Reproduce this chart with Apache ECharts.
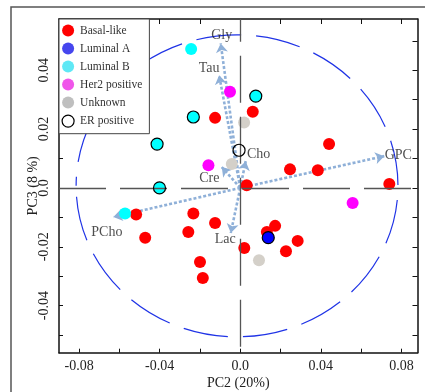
<!DOCTYPE html>
<html><head><meta charset="utf-8">
<script src="https://cdn.jsdelivr.net/npm/echarts@6/dist/echarts.min.js"></script>
<style>html,body{margin:0;padding:0;background:#fff}#c{width:425px;height:392px}</style>
</head><body><div id="c"></div>
<script>
// ---- data (PC2, PC3, ER positive flag) ----
const basalLike = [[-0.0125,0.0238,0],[0.0062,0.0259,0],[0.0441,0.0149,0],[0.0247,0.0063,0],[0.0385,0.0060,0],[0.0740,0.0013,0],[0.0032,0.0009,0],[-0.0517,-0.0090,0],[-0.0472,-0.0169,0],[-0.0233,-0.0087,0],[-0.0125,-0.0119,0],[-0.0258,-0.0150,0],[-0.0200,-0.0252,0],[-0.0186,-0.0306,0],[0.0173,-0.0129,0],[0.0132,-0.0150,0],[0.0285,-0.0180,0],[0.0227,-0.0215,0],[0.0020,-0.0204,0]];
const luminalA = [[0.0139,-0.0169,1]];
const luminalB = [[-0.0244,0.0472,0],[-0.0233,0.0241,1],[-0.0413,0.0149,1],[-0.0401,0.0000,1],[0.0077,0.0312,1],[-0.0572,-0.0087,0]];
const her2Positive = [[-0.0051,0.0327,0],[-0.0158,0.0077,0],[0.0558,-0.0051,0]];
const unknown = [[0.0019,0.0222,0],[-0.0042,0.0081,0],[0.0093,-0.0246,0]];
const erOnly = [[-0.0006,0.0128,1]];
const classNames = ['Basal-like','Luminal A','Luminal B','Her2 positive','Unknown','ER positive'];
// loadings (arrow tips)
const loadingNames = ['Gly','Tau','Cho','GPC','Cre','PCho','Lac'];
const loadingX = [-0.0097,-0.0105,0.0027,0.0715,-0.0092,-0.0630,-0.0047];
const loadingY = [0.0491,0.0383,0.0091,0.0108,0.0071,-0.0099,-0.0153];
// confidence ellipse: centre x, centre y, radius x, radius y
const ellipse = [-0.0016,0.0007,0.0799,0.0513];
// axis ticks
const xTicks = [-0.08,-0.06,-0.04,-0.02,0,0.02,0.04,0.06,0.08];
const xTickLabels = [-0.08,-0.04,0,0.04,0.08];
const yTicks = [-0.05,-0.04,-0.03,-0.02,-0.01,0,0.01,0.02,0.03,0.04,0.05];
const yTickLabels = [-0.04,-0.02,0,0.02,0.04];

// ---- styles ----
const FONT = 'Liberation Serif';
const plotColors = ['#ff0000','#0000ff','#00ffff','#ff00ff','#d4d0c9'];
const legendColors = ['#ff0000','#4646ee','#5fe8f5','#f055ea','#bfbfbf'];
const labelOffsets = {Gly:[1,-8],Tau:[-10,-6.5],Cho:[13,-7],GPC:[14,-0.5],Cre:[-12.5,11],PCho:[-6.5,15.5],Lac:[-5.5,6]};
const SYM = 12;

const groups = [basalLike, luminalA, luminalB, her2Positive, unknown];
const series = [];
series.push({
  type:'custom', coordinateSystem:'cartesian2d', silent:true, z:1, clip:false,
  data:[ellipse],
  renderItem:(params, api) => {
    const c = api.coord([api.value(0), api.value(1)]);
    const e = api.coord([api.value(0)+api.value(2), api.value(1)+api.value(3)]);
    return {type:'ellipse', shape:{cx:c[0], cy:c[1], rx:Math.abs(e[0]-c[0]), ry:Math.abs(e[1]-c[1])},
      style:{fill:'none', stroke:'#1f33e6', lineWidth:1.2, lineDash:[45,15], lineDashOffset:36}};
  }
});
series.push({
  type:'lines', coordinateSystem:'cartesian2d', silent:true, z:3,
  symbol:['none','arrow'], symbolSize:[0,9],
  lineStyle:{color:'#8fb0d8', width:2.6, type:[3,2], opacity:1},
  data: loadingNames.map((n,i)=>({coords:[[0,0],[loadingX[i],loadingY[i]]]}))
});
groups.forEach((g,i)=>{
  series.push({
    name:classNames[i], type:'scatter', symbol:'circle', symbolSize:SYM, z:4, silent:true,
    itemStyle:{color:plotColors[i], opacity:1},
    data:g.map(p=>[p[0],p[1]])
  });
});
const erPts = [];
groups.concat([erOnly]).forEach(g=>g.forEach(p=>{ if(p[2]) erPts.push([p[0],p[1]]); }));
series.push({
  name:'ER positive', type:'scatter', symbol:'circle', symbolSize:SYM, z:5, silent:true,
  itemStyle:{color:'rgba(0,0,0,0)', borderColor:'#000', borderWidth:1.2, opacity:1},
  data:erPts
});
series.push({
  type:'scatter', symbol:'circle', symbolSize:1, z:6, silent:true,
  itemStyle:{color:'rgba(0,0,0,0)'},
  data: loadingNames.map((n,i)=>({value:[loadingX[i],loadingY[i]], name:n,
    label:{show:true, position:'inside', offset:labelOffsets[n], formatter:n,
      fontFamily:FONT, fontSize:14, color:'#222'}})),
  markLine:{silent:true, symbol:'none', label:{show:false}, animation:false,
    lineStyle:{color:'#555', width:1.3, type:[47,14], dashOffset:0},
    data:[{yAxis:0},{xAxis:0, lineStyle:{color:'#555', width:1.3, type:[47,14], dashOffset:55}}]}
});

const axisCommon = {splitLine:{show:false}, axisLine:{show:true, onZero:false, lineStyle:{color:'#111', width:1.5}}};
const option = {
  animation:false,
  backgroundColor:'#fff',
  graphic:[{type:'rect', shape:{x:11,y:7,width:430,height:400}, style:{fill:'none', stroke:'#555', lineWidth:1.5}, silent:true, z:-1}],
  grid:{left:59, right:7.5, top:19, bottom:39.3, containLabel:false, outerBoundsMode:'none'},
  legend:{
    orient:'vertical', left:59, top:19, selectedMode:false,
    backgroundColor:'#fff', borderColor:'#444', borderWidth:1, padding:[5.5,7,6,2.5],
    itemWidth:14, itemHeight:12, itemGap:6, icon:'circle',
    textStyle:{fontFamily:FONT, fontSize:11.5, color:'#333'},
    data: classNames.map((n,i)=> i<5 ? {name:n, itemStyle:{color:legendColors[i], borderWidth:0}} :
      {name:n, itemStyle:{color:'#fff', borderColor:'#000', borderWidth:1.2}})
  },
  xAxis:[
    Object.assign({type:'value', position:'bottom', min:-0.09, max:0.088,
      name:'PC2 (20%)', nameLocation:'middle', nameGap:24, nameMoveOverlap:false,
      nameTextStyle:{fontFamily:FONT, fontSize:14, color:'#222'},
      axisTick:{show:true, inside:true, length:4, customValues:xTicks, lineStyle:{color:'#111'}},
      axisLabel:{show:true, customValues:xTickLabels, margin:7, fontFamily:FONT, fontSize:14, color:'#222',
        formatter:v=> Math.abs(v)<1e-9 ? '0.0' : v.toFixed(2)}}, axisCommon),
    Object.assign({type:'value', position:'top', min:-0.09, max:0.088,
      axisTick:{show:true, inside:true, length:5, customValues:xTicks, lineStyle:{color:'#111'}},
      axisLabel:{show:false}}, axisCommon)
  ],
  yAxis:[
    Object.assign({type:'value', position:'left', min:-0.056, max:0.0574,
      name:'PC3 (8 %)', nameLocation:'middle', nameGap:19, nameRotate:90, nameMoveOverlap:false,
      nameTextStyle:{fontFamily:FONT, fontSize:14, color:'#222'},
      axisTick:{show:true, inside:true, length:4, customValues:yTicks, lineStyle:{color:'#111'}},
      axisLabel:{show:true, rotate:90, customValues:yTickLabels, margin:8, fontFamily:FONT, fontSize:14, color:'#222',
        formatter:v=> Math.abs(v)<1e-9 ? '0.0' : v.toFixed(2)}}, axisCommon),
    Object.assign({type:'value', position:'right', min:-0.056, max:0.0574,
      axisTick:{show:true, inside:true, length:5, customValues:yTicks, lineStyle:{color:'#111'}},
      axisLabel:{show:false}}, axisCommon)
  ],
  series: series
};
const chart = echarts.init(document.getElementById('c'), null, {renderer:'canvas'});
chart.setOption(option);
</script></body></html>
